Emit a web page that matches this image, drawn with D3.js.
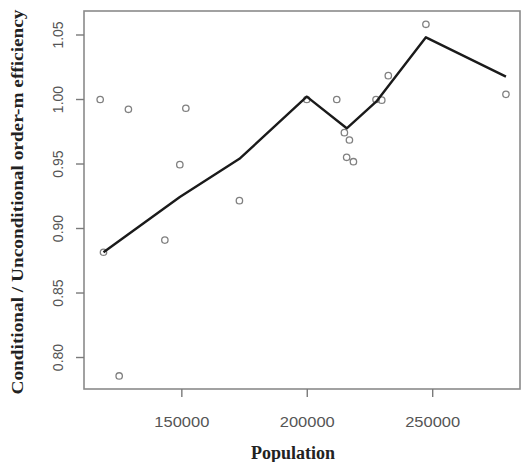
<!DOCTYPE html>
<html><head><meta charset="utf-8">
<script src="https://cdn.jsdelivr.net/npm/d3@7"></script>
<style>body{margin:0;background:#fff}svg{display:block}</style>
</head><body>
<script>
const pointX = [117450,128700,151600,149200,118770,143230,125020,172950,199800,211750,227400,229700,232300,214800,216800,215700,218400,247300,279200];
const pointY = [1.000,0.9924,0.9932,0.9495,0.8816,0.891,0.7857,0.9216,1.000,1.000,1.000,0.9995,1.0185,0.9743,0.9686,0.9552,0.9518,1.0583,1.004];
const lineX = [118770,149200,172950,199800,215730,227800,247300,279200];
const lineY = [0.8816,0.9245,0.954,1.0022,0.9777,0.999,1.0482,1.0177];
const xTicks = [150000,200000,250000];
const yTicks = [0.80,0.85,0.90,0.95,1.00,1.05];
const xTitle = "Population";
const yTitle = "Conditional / Unconditional order-m efficiency";

const W=523,H=462;
const L=84,R=520,T=11,B=389;
const svg=d3.select("body").append("svg").attr("width",W).attr("height",H);
const x=d3.scaleLinear().domain([111000,284800]).range([L,R]);
const y=d3.scaleLinear().domain([0.7756,1.0686]).range([B,T]);
const gray="#7a7a7a";

svg.append("rect").attr("x",L).attr("y",T).attr("width",R-L).attr("height",B-T)
  .attr("fill","none").attr("stroke","#8a8a8a").attr("stroke-width",1.6);

// x axis
const xa=svg.append("g");
xa.selectAll("line").data(xTicks).join("line")
  .attr("x1",d=>x(d)).attr("x2",d=>x(d)).attr("y1",B).attr("y2",B+8)
  .attr("stroke",gray).attr("stroke-width",1.4);
xa.selectAll("text").data(xTicks).join("text")
  .attr("x",d=>x(d)).attr("y",427).attr("text-anchor","middle")
  .attr("font-family","Liberation Sans, Arial, sans-serif").attr("font-size",15)
  .attr("textLength",55).attr("lengthAdjust","spacingAndGlyphs")
  .attr("fill","#555").text(d=>d3.format("d")(d));

// y axis
const ya=svg.append("g");
ya.selectAll("line").data(yTicks).join("line")
  .attr("x1",L-8).attr("x2",L).attr("y1",d=>y(d)).attr("y2",d=>y(d))
  .attr("stroke",gray).attr("stroke-width",1.4);
ya.selectAll("text").data(yTicks).join("text")
  .attr("transform",d=>`translate(63,${y(d)}) rotate(-90)`)
  .attr("text-anchor","middle")
  .attr("font-family","Liberation Sans, Arial, sans-serif").attr("font-size",14)
  .attr("fill","#555").text(d=>d3.format(".2f")(d));

// titles
svg.append("text").attr("x",293).attr("y",459).attr("text-anchor","middle")
  .attr("font-family","Liberation Serif, Times New Roman, serif").attr("font-weight","bold")
  .attr("font-size",18).attr("fill","#222").text(xTitle);
svg.append("text").attr("transform","translate(23,202) rotate(-90)").attr("text-anchor","middle")
  .attr("font-family","Liberation Serif, Times New Roman, serif").attr("font-weight","bold")
  .attr("font-size",17).attr("textLength",385).attr("lengthAdjust","spacingAndGlyphs")
  .attr("fill","#222").text(yTitle);

// points
svg.append("g").selectAll("circle").data(pointX.map((d,i)=>[d,pointY[i]])).join("circle")
  .attr("cx",d=>x(d[0])).attr("cy",d=>y(d[1])).attr("r",3.2)
  .attr("fill","none").attr("stroke","#808080").attr("stroke-width",1.3);

// line
const pts=lineX.map((d,i)=>[d,lineY[i]]);
svg.append("path").datum(pts)
  .attr("d",d3.line().x(d=>x(d[0])).y(d=>y(d[1])))
  .attr("fill","none").attr("stroke","#1a1a1a").attr("stroke-width",2.4).attr("stroke-linejoin","round");
</script>
</body></html>
